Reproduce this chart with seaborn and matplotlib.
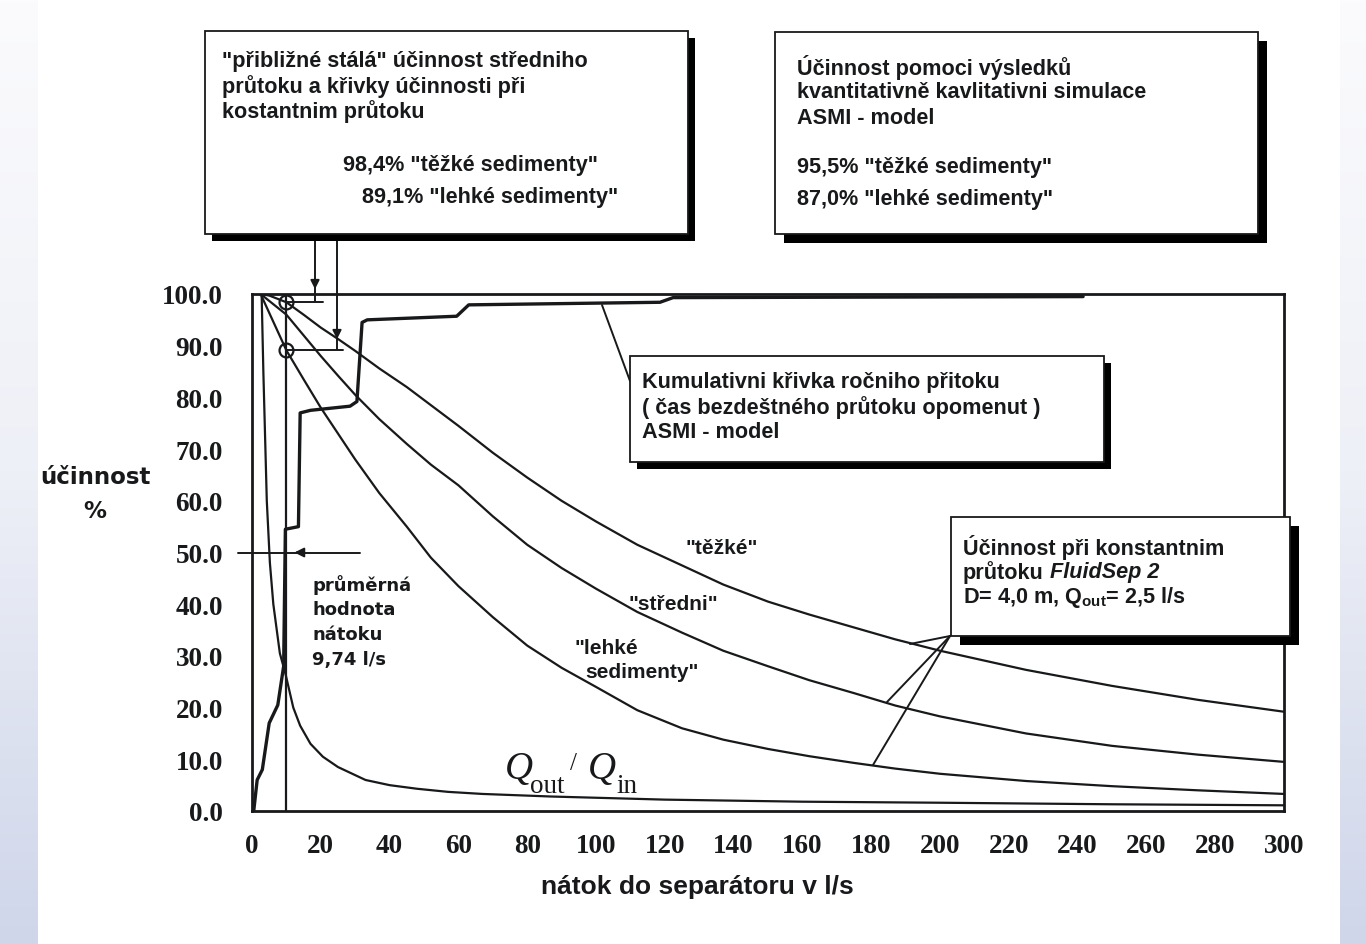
import numpy as np
import matplotlib
matplotlib.use("Agg")
import matplotlib.pyplot as plt
from matplotlib.colors import LinearSegmentedColormap
from matplotlib.lines import Line2D
from matplotlib.patches import Rectangle
import seaborn as sns

# --- values ---
# efficiency curves at constant flow (FluidSep 2), x = inflow l/s, y = %
flow_heavy = [2.5, 5, 10, 15, 20, 25, 30, 37, 45, 52, 60, 70, 80, 90, 100, 112, 125, 137,
              150, 162, 175, 187, 200, 225, 250, 275, 300]
eff_heavy = [100, 99.7, 98.4, 96, 93.5, 91.3, 89, 85.6, 82, 78.5, 74.5, 69.3, 64.5, 60, 56, 51.5,
             47.5, 43.8, 40.5, 38, 35.5, 33.2, 31, 27.3, 24.2, 21.5, 19.2]

flow_mid = [2.5, 10, 15, 20, 25, 30, 37, 45, 52, 60, 70, 80, 90, 100, 112, 125, 137,
            150, 162, 175, 187, 200, 225, 250, 275, 300]
eff_mid = [100, 96, 92, 88, 84.2, 80.5, 75.8, 71, 67, 63, 57, 51.5, 47, 43, 38.5, 34.5, 31,
           28, 25.3, 22.8, 20.4, 18.3, 15, 12.6, 10.9, 9.5]

flow_light = [2.5, 10, 15, 20, 25, 30, 37, 45, 52, 60, 70, 80, 90, 100, 112, 125, 137,
              150, 162, 175, 187, 200, 225, 250, 275, 300]
eff_light = [100, 89.1, 83.5, 78, 73, 68, 61.5, 55, 49, 43.5, 37.5, 32, 27.7, 24, 19.5, 16, 13.8,
             12, 10.6, 9.3, 8.2, 7.2, 5.8, 4.8, 4.0, 3.3]

# Q_out / Q_in ratio
flow_ratio = [2.8, 3.3, 4.3, 5.2, 6.2, 8.1, 9.74, 12, 14, 17, 20.6, 25, 33, 40, 48, 57, 67, 87,
              120, 160, 200, 250, 300]
ratio = [100, 85, 60, 48, 40, 30.5, 26.5, 20, 16.5, 13, 10.5, 8.5, 6, 5, 4.3, 3.7, 3.3, 2.8,
         2.2, 1.8, 1.6, 1.3, 1.1]

# cumulative curve of annual inflow (ASMI model)
flow_cum = [0.5, 1.5, 3, 5, 7.5, 9.2, 9.7, 13.5, 14, 17, 28.5, 30.5, 32, 33.5, 59.5, 63, 118.6, 122.4, 241.6]
cum = [0, 6, 8, 17, 20.5, 28, 54.5, 55, 77, 77.5, 78.3, 79.2, 94.5, 95, 95.7, 97.9, 98.4, 99.3, 99.5]

mean_flow = 9.74
eff_marks = [98.4, 89.1]

x_ticks = list(range(0, 301, 20))
y_ticks = list(range(0, 101, 10))

# --- figure setup ---
W, H = 1366, 945
INK = "#17191b"

sns.set_theme(style="white")
plt.rcParams["font.family"] = ["Liberation Sans", "DejaVu Sans"]
plt.rcParams["mathtext.fontset"] = "custom"
plt.rcParams["mathtext.rm"] = "Liberation Sans:bold"
plt.rcParams["mathtext.it"] = "Liberation Sans:italic:bold"

fig = plt.figure(figsize=(W / 100, H / 100), dpi=100, facecolor="white")


def fx(px):
    return px / W


def fy(py):
    return 1 - py / H


# side strips with a pale blue gradient
grad = LinearSegmentedColormap.from_list("strip", ["#fbfbfd", "#eef0f7", "#cfd6ea"])
for x0, x1 in [(0, 38), (1340, 1366)]:
    bg = fig.add_axes([fx(x0), 0, (x1 - x0) / W, 1], zorder=-5)
    bg.imshow(np.linspace(0, 1, 256)[:, None], aspect="auto", cmap=grad)
    bg.set_axis_off()

ax = fig.add_axes([fx(252), fy(812), (1284 - 252) / W, (812 - 295) / H])
ax.set_facecolor("white")

lw = 1.6
sns.lineplot(x=flow_heavy, y=eff_heavy, ax=ax, color=INK, lw=lw, sort=False, estimator=None)
sns.lineplot(x=flow_mid, y=eff_mid, ax=ax, color=INK, lw=lw, sort=False, estimator=None)
sns.lineplot(x=flow_light, y=eff_light, ax=ax, color=INK, lw=lw, sort=False, estimator=None)
sns.lineplot(x=flow_ratio, y=ratio, ax=ax, color=INK, lw=lw, sort=False, estimator=None)
sns.lineplot(x=flow_cum, y=cum, ax=ax, color=INK, lw=2.4, sort=False, estimator=None)
sns.lineplot(x=[mean_flow, mean_flow], y=[0, 100], ax=ax, color=INK, lw=lw, sort=False, estimator=None)

# open circles + horizontal marks for the mean-flow efficiencies
ax.plot([mean_flow] * 2, eff_marks, "o", ms=10, mfc="none", mec=INK, mew=1.6, clip_on=False, zorder=5)
ax.plot([mean_flow, 20.6], [98.4, 98.4], color=INK, lw=1.4, clip_on=False)
ax.plot([mean_flow, 26.5], [89.1, 89.1], color=INK, lw=1.4, clip_on=False)

# mean-flow arrow at 50 %
ax.plot([-4, 31.4], [50, 50], color=INK, lw=1.4, clip_on=False)
ax.annotate("", xy=(11.5, 50), xytext=(16, 50), annotation_clip=False,
            arrowprops=dict(arrowstyle="-|>", color=INK, lw=1.4, mutation_scale=14))

ax.set_xlim(0, 300)
ax.set_ylim(0, 100)
ax.set_xticks(x_ticks)
ax.set_yticks(y_ticks)
ax.set_xticklabels([str(v) for v in x_ticks])
ax.set_yticklabels([f"{v:.1f}" for v in y_ticks])
ax.set_xlabel("")
ax.set_ylabel("")
for lab in ax.get_xticklabels() + ax.get_yticklabels():
    lab.set_fontfamily("Liberation Serif")
    lab.set_fontweight("bold")
    lab.set_fontsize(19.5)
    lab.set_color(INK)
ax.tick_params(axis="both", direction="out", length=10, width=1.5, color=INK)
ax.tick_params(axis="y", pad=11)
ax.tick_params(axis="x", pad=6)
for sp in ax.spines.values():
    sp.set_visible(True)
    sp.set_color(INK)
    sp.set_linewidth(2.0)
ax.grid(False)

# --- leader lines drawn in figure pixels ---
def seg(pts, lw=1.4):
    fig.add_artist(Line2D([fx(p[0]) for p in pts], [fy(p[1]) for p in pts],
                          color=INK, lw=lw, zorder=4))


def arrow_down(px, tip_py):
    ax.annotate("", xy=(fx(px), fy(tip_py)), xytext=(fx(px), fy(tip_py - 14)),
                xycoords="figure fraction", textcoords="figure fraction",
                annotation_clip=False,
                arrowprops=dict(arrowstyle="-|>", color=INK, lw=1.4, mutation_scale=13))


seg([(337, 165), (315, 165), (315, 302)])
arrow_down(315, 293)
seg([(358, 196), (337, 196), (337, 350)])
arrow_down(337, 343)
seg([(602, 306), (630, 382)])
seg([(950, 637), (910, 645)])
seg([(950, 637), (887, 703)])
seg([(950, 637), (873, 766)])


# --- boxes with drop shadows ---
def box(x0, y0, x1, y1, off=8):
    w, h = (x1 - x0) / W, (y1 - y0) / H
    fig.patches.append(Rectangle((fx(x0 + off), fy(y1 + off)), w, h, transform=fig.transFigure,
                                 facecolor="black", edgecolor="none", zorder=5))
    fig.patches.append(Rectangle((fx(x0), fy(y1)), w, h, transform=fig.transFigure,
                                 facecolor="white", edgecolor=INK, lw=1.3, zorder=6))


def txt(px, py, s, size=15.6, **kw):
    kw.setdefault("fontweight", "bold")
    kw.setdefault("va", "center")
    kw.setdefault("ha", "left")
    kw.setdefault("color", INK)
    fig.text(fx(px), fy(py), s, fontsize=size, zorder=7, **kw)


box(205, 32, 688, 235, off=7)
txt(222, 62, '"přibližné stálá" účinnost středniho')
txt(222, 87, "průtoku a křivky účinnosti při")
txt(222, 112, "kostantnim průtoku")
txt(343, 165, '98,4% "těžké sedimenty"')
txt(362, 197, '89,1% "lehké sedimenty"')

box(775, 33, 1258, 235, off=9)
txt(797, 68, "Účinnost pomoci výsledků")
txt(797, 93, "kvantitativně kavlitativni simulace")
txt(797, 118, "ASMI - model")
txt(797, 167, '95,5% "těžké sedimenty"')
txt(797, 199, '87,0% "lehké sedimenty"')

box(630, 357, 1104, 463, off=7)
txt(642, 383, "Kumulativni křivka ročniho přitoku")
txt(642, 408, "( čas bezdeštného průtoku opomenut )")
txt(642, 433, "ASMI - model")

box(951, 518, 1290, 637, off=9)
txt(963, 548, "Účinnost při konstantnim")
txt(963, 573, "průtoku")
txt(1050, 573, "FluidSep 2", style="italic")
txt(963, 598, r"D= 4,0 m, Q$_{\mathrm{out}}$= 2,5 l/s")

# curve labels
txt(722, 548, '"těžké"', size=15, ha="center")
txt(673, 605, '"středni"', size=15, ha="center")
txt(575, 648, '"lehké', size=15)
txt(585, 672, 'sedimenty"', size=15)

# mean inflow note
for i, s in enumerate(["průměrná", "hodnota", "nátoku", "9,74 l/s"]):
    txt(312, 585 + 25 * i, s, size=13, family="DejaVu Sans")

# Q_out / Q_in label
serif = dict(family="Liberation Serif", fontweight="normal", va="baseline")
txt(505, 779, "Q", size=28, style="italic", **serif)
txt(530, 793, "out", size=19.5, **serif)
txt(570, 770, "/", size=18, **serif)
txt(588, 779, "Q", size=28, style="italic", **serif)
txt(616, 793, "in", size=19.5, **serif)

# axis titles
txt(95, 478, "účinnost", size=16.5, ha="center", family="DejaVu Sans")
txt(95, 511, "%", size=16.5, ha="center", family="DejaVu Sans")
txt(697, 887, "nátok do separátoru v l/s", size=19, ha="center")

fig.savefig("out.png", dpi=100, facecolor="white")
